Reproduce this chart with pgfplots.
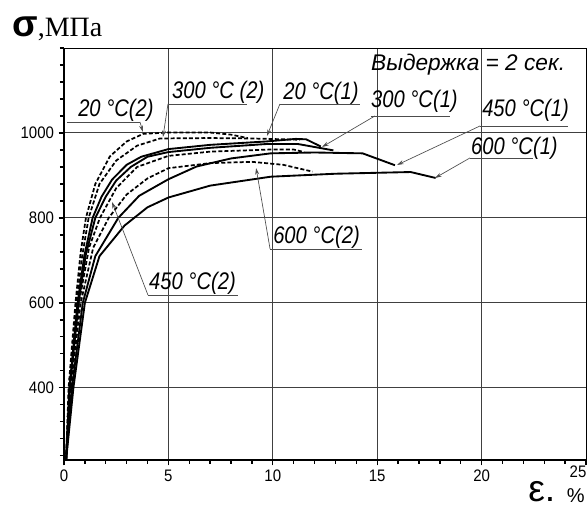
\documentclass[border=0pt]{standalone}
\usepackage{fontspec}
\setmainfont{Liberation Sans}
\newfontfamily\annfont[FakeStretch=0.84]{Liberation Sans}
\newfontfamily\tickfont[FakeStretch=0.9]{Liberation Sans}
\newfontfamily\seriffont{Liberation Serif}
\usepackage{pgfplots}
\pgfplotsset{compat=1.18}
\usetikzlibrary{arrows.meta}

\begin{document}
\begin{tikzpicture}
\path[use as bounding box] (-48pt,-36.75pt) rectangle (393pt,345pt);
\begin{axis}[
  scale only axis, width=391.5pt, height=309pt,
  xmin=0, xmax=25, ymin=230, ymax=1200,
  xtick={0,5,10,15,20}, extra x ticks={25},
  extra x tick style={grid=none, xticklabel style={xshift=-6pt, yshift=3pt}},
  ytick={400,600,800,1000},
  minor xtick={1,2,...,24}, minor ytick={240,280,...,1200},
  tick align=outside, xtick pos=bottom, ytick pos=left,
  major tick length=4pt, minor tick length=3pt,
  tick style={black, line width=1pt},
  grid=major, major grid style={black!75, line width=0.7pt},
  axis line style={black, line width=0.6pt},
  ticklabel style={font=\tickfont\fontsize{12.5}{14}\selectfont},
  /pgf/number format/assume math mode=true,
  /pgf/number format/set thousands separator={},
  clip=false,
]
% 20 C (2)
\addplot[black, line width=1.3pt, dash pattern=on 3pt off 1.6pt] coordinates {(0.1,230) (0.22,400) (0.55,600) (0.8,720) (1.05,800) (1.5,880) (2.2,945) (3,980) (3.8,998) (5,1001) (7,1001) (8,996) (8.8,988)};
% 300 C (2)
\addplot[black, line width=1.3pt, dash pattern=on 3pt off 1.6pt] coordinates {(0.1,230) (0.24,400) (0.6,600) (0.87,710) (1.18,800) (1.7,880) (2.5,935) (3.5,970) (4.6,987) (7,988) (9,987) (11.3,984)};
% 20 C (1)
\addplot[black, line width=1.4pt] coordinates {(0.1,230) (0.26,400) (0.65,600) (0.97,710) (1.37,800) (1.8,850) (2.3,890) (3,925) (3.7,944) (5,962) (7,972) (9.7,980) (11.1,986) (11.6,985) (12.3,968)};
% 300 C (1)
\addplot[black, line width=1.4pt] coordinates {(0.1,230) (0.28,400) (0.7,600) (1.05,715) (1.5,800) (2,850) (2.5,888) (3.2,920) (4,944) (5,955) (7,965) (9.7,974) (11.2,974) (12.9,959)};
% 450 C (2)
\addplot[black, line width=1.3pt, dash pattern=on 3pt off 1.6pt] coordinates {(0.1,230) (0.3,400) (0.72,600) (1.2,730) (1.72,800) (2.5,870) (3.5,920) (5,946) (7,956) (9.9,961) (11,961) (11.5,955)};
% 600 C (2)
\addplot[black, line width=1.3pt, dash pattern=on 3pt off 1.6pt] coordinates {(0.1,230) (0.32,400) (0.8,600) (1.4,730) (2.14,800) (3,855) (4,893) (5,917) (7,929) (9,932) (10.5,925) (11.9,909)};
% 450 C (1)
\addplot[black, line width=1.4pt] coordinates {(0.1,230) (0.38,400) (0.9,600) (1.5,710) (2.6,800) (3.6,852) (5,891) (6.35,921) (8,940) (9.9,952) (12,954) (14.3,952) (15.85,924)};
% 600 C (1)
\addplot[black, line width=1.4pt] coordinates {(0.1,230) (0.45,400) (1.0,600) (1.7,710) (2.9,782) (4,825) (5,848) (7,876) (9.9,897) (13,904) (16.6,908) (17.8,894)};

% thick left and bottom axis lines
\draw[line width=2.2pt] (rel axis cs:0,1) -- (rel axis cs:0,0) -- (rel axis cs:1,0);

% annotations
\tikzset{lead/.style={black!70, line width=0.5pt},
         arr/.style={black!70, line width=0.5pt, -{Stealth[length=5pt,width=3pt]}},
         lab/.style={anchor=base west, inner sep=0pt, font=\annfont\itshape\fontsize{18}{20}\selectfont}}
\node[lab] at (axis cs:0.67,1037.6) {20 °C(2)};
\draw[lead] (axis cs:0.14,1025.8) -- (axis cs:3.64,1025.8);
\draw[arr] (axis cs:3.64,1025.8) -- (axis cs:3.78,1002.3);

\node[lab] at (axis cs:5.17,1080) {300 °C (2)};
\draw[lead] (axis cs:4.98,1068.2) -- (axis cs:8.76,1068.2);
\draw[arr] (axis cs:4.98,1068.2) -- (axis cs:4.74,990.5);

\node[lab] at (axis cs:10.49,1077.7) {20 °C(1)};
\draw[lead] (axis cs:10.34,1068.2) -- (axis cs:14.18,1068.2);
\draw[arr] (axis cs:10.34,1068.2) -- (axis cs:9.72,992.9);

\node[lab] at (axis cs:14.70,1058.8) {300 °C(1)};
\draw[lead] (axis cs:14.70,1040) -- (axis cs:18.49,1040);
\draw[arr] (axis cs:14.89,1040) -- (axis cs:12.36,967);

\node[lab] at (axis cs:20.02,1037.6) {450 °C(1)};
\draw[lead] (axis cs:19.92,1016.4) -- (axis cs:24.14,1016.4);
\draw[arr] (axis cs:19.92,1016.4) -- (axis cs:15.95,924.6);

\node[lab] at (axis cs:19.49,948.2) {600 °C(1)};
\draw[lead] (axis cs:19.44,941.1) -- (axis cs:22.46,941.1);
\draw[arr] (axis cs:19.44,941.1) -- (axis cs:17.77,894);

\node[lab] at (axis cs:10.01,738.6) {600 °C(2)};
\draw[lead] (axis cs:9.87,726.8) -- (axis cs:14.27,726.8);
\draw[arr] (axis cs:9.87,726.8) -- (axis cs:9.20,917.5);

\node[lab] at (axis cs:4.07,630.3) {450 °C(2)};
\draw[lead] (axis cs:4.02,618.5) -- (axis cs:8.33,618.5);
\draw[arr] (axis cs:4.02,618.5) -- (axis cs:2.30,837.5);

\node[lab, font=\itshape\fontsize{17}{19}\selectfont] at (axis cs:14.70,1146) {Выдержка = 2 сек.};
\end{axis}
\node[anchor=base west, inner sep=0pt] at (-39pt,317.25pt) {{\bfseries\fontsize{28}{30}\selectfont σ}{\seriffont\fontsize{21}{23}\selectfont ,МПа}};
\node[anchor=base west, inner sep=0pt, font=\fontsize{28}{30}\selectfont] at (348pt,-31.5pt) {ε.};
\node[anchor=base west, inner sep=0pt, font=\fontsize{15}{17}\selectfont] at (377pt,-32pt) {\%};
\end{tikzpicture}
\end{document}
